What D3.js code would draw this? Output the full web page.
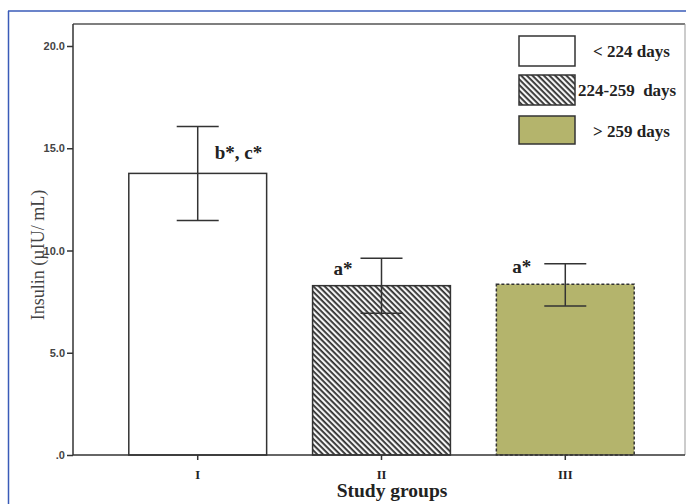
<!DOCTYPE html>
<html><head><meta charset="utf-8">
<script src="https://cdn.jsdelivr.net/npm/d3@7"></script>
<style>body{margin:0;background:#fff}svg{display:block}</style>
</head><body>
<svg id="c" width="686" height="504"></svg>
<script>
const groups = ["I", "II", "III"];
const means = [13.77, 8.28, 8.35];
const errUpper = [16.06, 9.62, 9.35];
const errLower = [11.47, 6.93, 7.29];
const annotations = ["b*, c*", "a*", "a*"];
const legendLabels = ["< 224 days", "224-259  days", "> 259 days"];
const yTicks = [0, 5, 10, 15, 20];

const svg = d3.select("#c");
const L = 73, R = 685, T = 24, B = 455;
const x = d3.scaleBand().domain(groups).range([L + 2.5, R + 2.5]).paddingInner(0.25).paddingOuter(0.29);
const y = d3.scaleLinear().domain([0, 20]).range([B, 46]);
const olive = "#b4b46c";
const dark = "#333";

const defs = svg.append("defs");
const pat = defs.append("pattern").attr("id", "hatch").attr("patternUnits", "userSpaceOnUse")
  .attr("width", 4).attr("height", 4).attr("patternTransform", "rotate(45)");
pat.append("rect").attr("width", 4).attr("height", 4).attr("fill", "#f4f4f4");
pat.append("rect").attr("x", 0).attr("y", 0).attr("width", 4).attr("height", 1.8).attr("fill", "#2e2e2e");

// outer blue border
svg.append("line").attr("x1", 8).attr("x2", 686).attr("y1", 11).attr("y2", 11).attr("stroke", "#3a5bb8").attr("stroke-width", 1.5);
svg.append("line").attr("x1", 8.5).attr("x2", 8.5).attr("y1", 11).attr("y2", 504).attr("stroke", "#3a5bb8").attr("stroke-width", 1.5);

// frame
svg.append("line").attr("x1", L).attr("x2", R).attr("y1", T).attr("y2", T).attr("stroke", "#555").attr("stroke-width", 1.5);
svg.append("line").attr("x1", R).attr("x2", R).attr("y1", T).attr("y2", B).attr("stroke", "#999").attr("stroke-width", 1);

const fills = ["#fff", "url(#hatch)", olive];
const dashes = [null, null, "3,2"];

// bars
svg.selectAll(".bar").data(groups).join("rect")
  .attr("x", d => x(d)).attr("width", x.bandwidth())
  .attr("y", (d, i) => y(means[i])).attr("height", (d, i) => y(0) - y(means[i]))
  .attr("fill", (d, i) => fills[i]).attr("stroke", dark).attr("stroke-width", 1.5)
  .attr("stroke-dasharray", (d, i) => dashes[i]);

// error bars
const capW = 21;
groups.forEach((g, i) => {
  const cx = x(g) + x.bandwidth() / 2;
  const eg = svg.append("g").attr("stroke", dark).attr("stroke-width", 1.5);
  eg.append("line").attr("x1", cx).attr("x2", cx).attr("y1", y(errUpper[i])).attr("y2", y(errLower[i]));
  eg.append("line").attr("x1", cx - capW).attr("x2", cx + capW).attr("y1", y(errUpper[i])).attr("y2", y(errUpper[i]));
  eg.append("line").attr("x1", cx - capW).attr("x2", cx + capW).attr("y1", y(errLower[i])).attr("y2", y(errLower[i]));
});

// annotations
const annDx = [17, -48, -53];
const annY = [159, 275, 273];
groups.forEach((g, i) => {
  const cx = x(g) + x.bandwidth() / 2;
  svg.append("text").attr("x", cx + annDx[i]).attr("y", annY[i])
    .attr("font-family", "Liberation Serif, Times New Roman, serif").attr("font-weight", "bold")
    .attr("font-size", 19).attr("fill", "#222").text(annotations[i]);
});

// y axis
const yAxis = svg.append("g").attr("transform", `translate(${L},0)`)
  .call(d3.axisLeft(y).tickValues(yTicks).tickSize(6).tickSizeOuter(0)
    .tickFormat(d => d === 0 ? ".0" : d3.format(".1f")(d)));
yAxis.select(".domain").attr("stroke", dark).attr("stroke-width", 1.5).attr("d", `M0,${T}V${B}`);
yAxis.selectAll(".tick line").attr("stroke", dark).attr("stroke-width", 1.5);
yAxis.selectAll(".tick text").attr("font-family", "Liberation Sans, Arial, sans-serif")
  .attr("font-weight", "bold").attr("font-size", 11).attr("fill", "#444").attr("dx", 1);

// x axis
const xAxis = svg.append("g").attr("transform", `translate(0,${B})`)
  .call(d3.axisBottom(x).tickSize(5).tickSizeOuter(0));
xAxis.select(".domain").attr("stroke", dark).attr("stroke-width", 1.5).attr("d", `M${L},0H${R}`);
xAxis.selectAll(".tick line").attr("stroke", dark).attr("stroke-width", 1.5);
xAxis.selectAll(".tick text").attr("font-family", "Liberation Serif, Times New Roman, serif")
  .attr("font-weight", "bold").attr("font-size", 12.5).attr("fill", "#222").attr("y", 15).attr("dy", "0.71em");

// axis titles
svg.append("text").attr("x", 392).attr("y", 497).attr("text-anchor", "middle")
  .attr("font-family", "Liberation Serif, Times New Roman, serif").attr("font-weight", "bold")
  .attr("font-size", 19.5).attr("fill", "#222").text("Study groups");
svg.append("text").attr("transform", "translate(44,255) rotate(-90)").attr("text-anchor", "middle")
  .attr("font-family", "Liberation Serif, Times New Roman, serif")
  .attr("font-size", 18).attr("fill", "#444").text("Insulin (µIU/ mL)");

// legend
const lg = svg.append("g");
const swY = [36, 75, 116];
const swH = [30, 30, 28];
const txX = [593, 578, 593];
legendLabels.forEach((lab, i) => {
  lg.append("rect").attr("x", 519).attr("y", swY[i]).attr("width", 56).attr("height", swH[i])
    .attr("fill", fills[i]).attr("stroke", dark).attr("stroke-width", 1.5);
  lg.append("text").attr("x", txX[i]).attr("y", swY[i] + 21)
    .attr("font-family", "Liberation Serif, Times New Roman, serif").attr("font-weight", "bold")
    .attr("font-size", 17).attr("fill", "#222").attr("xml:space", "preserve")
    .style("white-space", "pre").text(lab);
});
</script>
</body></html>
